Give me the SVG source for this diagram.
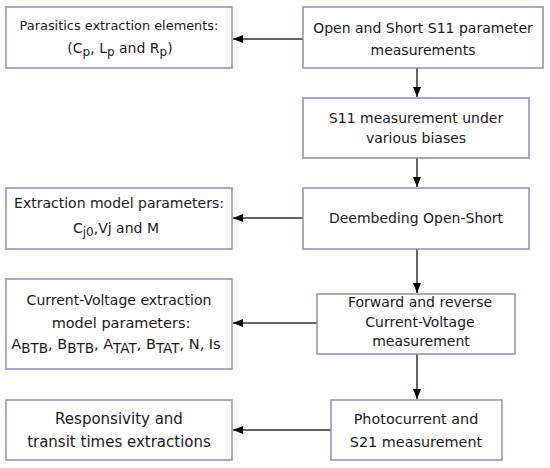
<svg xmlns="http://www.w3.org/2000/svg" width="550" height="468" viewBox="0 0 550 468">
<defs>
<style>
.box{fill:#fff;stroke:#8c8cc4;stroke-width:1.5}
.t{font-family:"DejaVu Sans",Verdana,sans-serif;font-size:14px;fill:#1a1a1a;text-anchor:middle}
.s{font-size:12px}
.c{stroke:#333;stroke-width:1.5;fill:none}
</style>
<marker id="ah" viewBox="0 0 10 8" refX="10" refY="4" markerWidth="10" markerHeight="8" markerUnits="userSpaceOnUse" orient="auto">
<path d="M0,0 L10,4 L0,8 Z" fill="#000"/>
</marker>
</defs>
<rect width="550" height="468" fill="#fff"/>
<g id="connectors">
<line class="c" x1="303" y1="39" x2="233" y2="39" marker-end="url(#ah)"/>
<line class="c" x1="417" y1="68" x2="417" y2="97" marker-end="url(#ah)"/>
<line class="c" x1="417" y1="158" x2="417" y2="187" marker-end="url(#ah)"/>
<line class="c" x1="303" y1="218" x2="233" y2="218" marker-end="url(#ah)"/>
<line class="c" x1="417" y1="249" x2="417" y2="293" marker-end="url(#ah)"/>
<line class="c" x1="317" y1="323" x2="233" y2="323" marker-end="url(#ah)"/>
<line class="c" x1="417" y1="354" x2="417" y2="399" marker-end="url(#ah)"/>
<line class="c" x1="331" y1="430" x2="233" y2="430" marker-end="url(#ah)"/>
</g>
<g id="n1">
<rect class="box" x="6" y="7" width="226" height="61"/>
<text class="t" x="119" y="30" style="font-size:12.9px">Parasitics extraction elements:</text>
<text class="t" x="120" y="53">(C<tspan class="s" dy="3">p</tspan><tspan dy="-3">, L</tspan><tspan class="s" dy="3">p</tspan><tspan dy="-3"> and R</tspan><tspan class="s" dy="3">p</tspan><tspan dy="-3">)</tspan></text>
</g>
<g id="n2">
<rect class="box" x="303" y="7" width="240" height="61"/>
<text class="t" x="423" y="33">Open and Short S11 parameter</text>
<text class="t" x="423" y="55">measurements</text>
</g>
<g id="n3">
<rect class="box" x="303" y="98" width="226" height="60"/>
<text class="t" x="416" y="123">S11 measurement under</text>
<text class="t" x="416" y="143">various biases</text>
</g>
<g id="n4">
<rect class="box" x="303" y="188" width="226" height="61"/>
<text class="t" x="416" y="223">Deembeding Open-Short</text>
</g>
<g id="n5">
<rect class="box" x="6" y="188" width="226" height="61"/>
<text class="t" x="119" y="208">Extraction model parameters:</text>
<text class="t" x="116" y="233">C<tspan class="s" dy="3">j0</tspan><tspan dy="-3">,Vj and M</tspan></text>
</g>
<g id="n6">
<rect class="box" x="317" y="294" width="198" height="60"/>
<text class="t" x="420" y="307">Forward and reverse</text>
<text class="t" x="420" y="327">Current-Voltage</text>
<text class="t" x="421" y="346">measurement</text>
</g>
<g id="n7">
<rect class="box" x="6" y="279" width="226" height="90"/>
<text class="t" x="119" y="305">Current-Voltage extraction</text>
<text class="t" x="121" y="328" style="font-size:14.5px">model parameters:</text>
<text class="t" x="116" y="349" style="font-size:14.5px">A<tspan style="font-size:13.5px" dy="4">BTB</tspan><tspan dy="-4">, B</tspan><tspan style="font-size:13.5px" dy="4">BTB</tspan><tspan dy="-4">, A</tspan><tspan style="font-size:13.5px" dy="4">TAT</tspan><tspan dy="-4">, B</tspan><tspan style="font-size:13.5px" dy="4">TAT</tspan><tspan dy="-4">, N, Is</tspan></text>
</g>
<g id="n8">
<rect class="box" x="331" y="400" width="171" height="60"/>
<text class="t" x="416" y="424" style="font-size:14.4px">Photocurrent and</text>
<text class="t" x="416" y="447" style="font-size:14.4px">S21 measurement</text>
</g>
<g id="n9">
<rect class="box" x="6" y="400" width="226" height="60"/>
<text class="t" x="119" y="424" style="font-size:15px">Responsivity and</text>
<text class="t" x="119" y="447" style="font-size:15px">transit times extractions</text>
</g>
</svg>
